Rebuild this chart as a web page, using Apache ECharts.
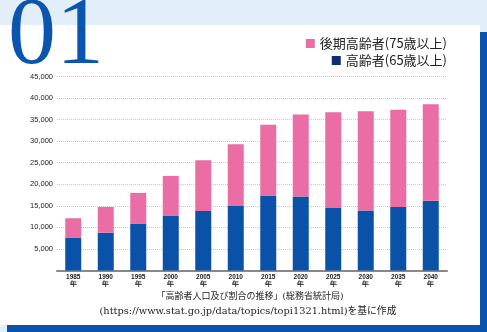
<!DOCTYPE html>
<html><head><meta charset="utf-8">
<script src="https://cdn.jsdelivr.net/npm/echarts@6/dist/echarts.min.js"></script>
<style>html,body{margin:0;padding:0;background:#fff}#c{width:487px;height:332px}</style>
</head><body><div id="c"></div>
<script>
const years = ['1985','1990','1995','2000','2005','2010','2015','2020','2025','2030','2035','2040'];
const seriesNames = ['高齢者(65歳以上)', '後期高齢者(75歳以上)'];
// blue segment (bottom) and pink segment (stacked on top), in thousands of people
const blueValues = [7550, 8780, 10800, 12730, 13800, 14980, 17370, 17140, 14500, 13900, 14740, 16200];
const pinkValues = [4570, 5960, 7200, 9210, 11780, 14320, 16410, 19040, 22230, 23060, 22530, 22380];
const yTicks = [0, 5000, 10000, 15000, 20000, 25000, 30000, 35000, 40000, 45000];
const titleNumber = '01';
const sourceLines = ['「高齢者人口及び割合の推移」(総務省統計局)', '(https://www.stat.go.jp/data/topics/topi1321.html)を基に作成'];

const chart = echarts.init(document.getElementById('c'), null, {renderer:'canvas'});
const blue = '#0a52a8', pink = '#ea6ea5', navyLegend = '#0f2d72';
chart.setOption({
  animation:false,
  graphic:[
    {type:'rect', z:-30, shape:{x:0,y:0,width:487,height:332}, style:{fill:'#e2eefa'}},
    {type:'rect', z:-29, shape:{x:7,y:32,width:480,height:300}, style:{fill:'#0652ad'}},
    {type:'rect', z:-28, shape:{x:0,y:25,width:480,height:300}, style:{fill:'#ffffff'}},
    {type:'text', z:50, left:8, top:-10, style:{text:titleNumber, fill:'#0a55b0', font:'96px "Liberation Serif", "DejaVu Serif", serif'}},
    {type:'text', z:50, x:250, y:292, style:{text:sourceLines[0], fill:'#222', font:'9px "DejaVu Serif", "Noto Sans CJK JP", serif', textAlign:'center'}},
    {type:'text', z:50, x:248, y:307, style:{text:sourceLines[1], fill:'#222', font:'9.8px "DejaVu Serif", "Noto Sans CJK JP", serif', textAlign:'center'}}
  ],
  legend:[
    {data:[{name:seriesNames[1], itemStyle:{color:pink}}], right:40, top:37, padding:0, icon:'rect', itemWidth:9, itemHeight:9,
     textStyle:{fontSize:13, fontFamily:'"Noto Sans CJK JP"', color:'#222'}},
    {data:[{name:seriesNames[0], itemStyle:{color:navyLegend}}], right:40, top:54, padding:0, icon:'rect', itemWidth:9, itemHeight:9,
     textStyle:{fontSize:13, fontFamily:'"Noto Sans CJK JP"', color:'#222'}}
  ],
  grid:{left:57, right:40, top:76.5, bottom:61.5},
  xAxis:{type:'category', data:years, boundaryGap:true,
    axisTick:{show:false},
    axisLine:{lineStyle:{color:'#888', width:2}},
    axisLabel:{interval:0, margin:3, fontSize:6.5, lineHeight:7, color:'#222', fontFamily:'"Liberation Sans", Arial', fontWeight:'bold',
      formatter: v => v + '\n年'}},
  yAxis:{type:'value', min:yTicks[0], max:yTicks[yTicks.length-1], interval:yTicks[1]-yTicks[0],
    axisLine:{show:false}, axisTick:{show:false},
    axisLabel:{margin:4, fontSize:7.5, color:'#222', fontFamily:'"Liberation Sans", Arial',
      formatter: v => v === 0 ? '' : v.toLocaleString('en-US')},
    splitLine:{lineStyle:{color:'#c8c8c8', type:[1,1], width:1}}},
  series:[
    {name:seriesNames[0], type:'bar', stack:'a', data:blueValues, barWidth:16, itemStyle:{color:blue}},
    {name:seriesNames[1], type:'bar', stack:'a', data:pinkValues, barWidth:16, itemStyle:{color:pink}}
  ]
});
</script></body></html>
